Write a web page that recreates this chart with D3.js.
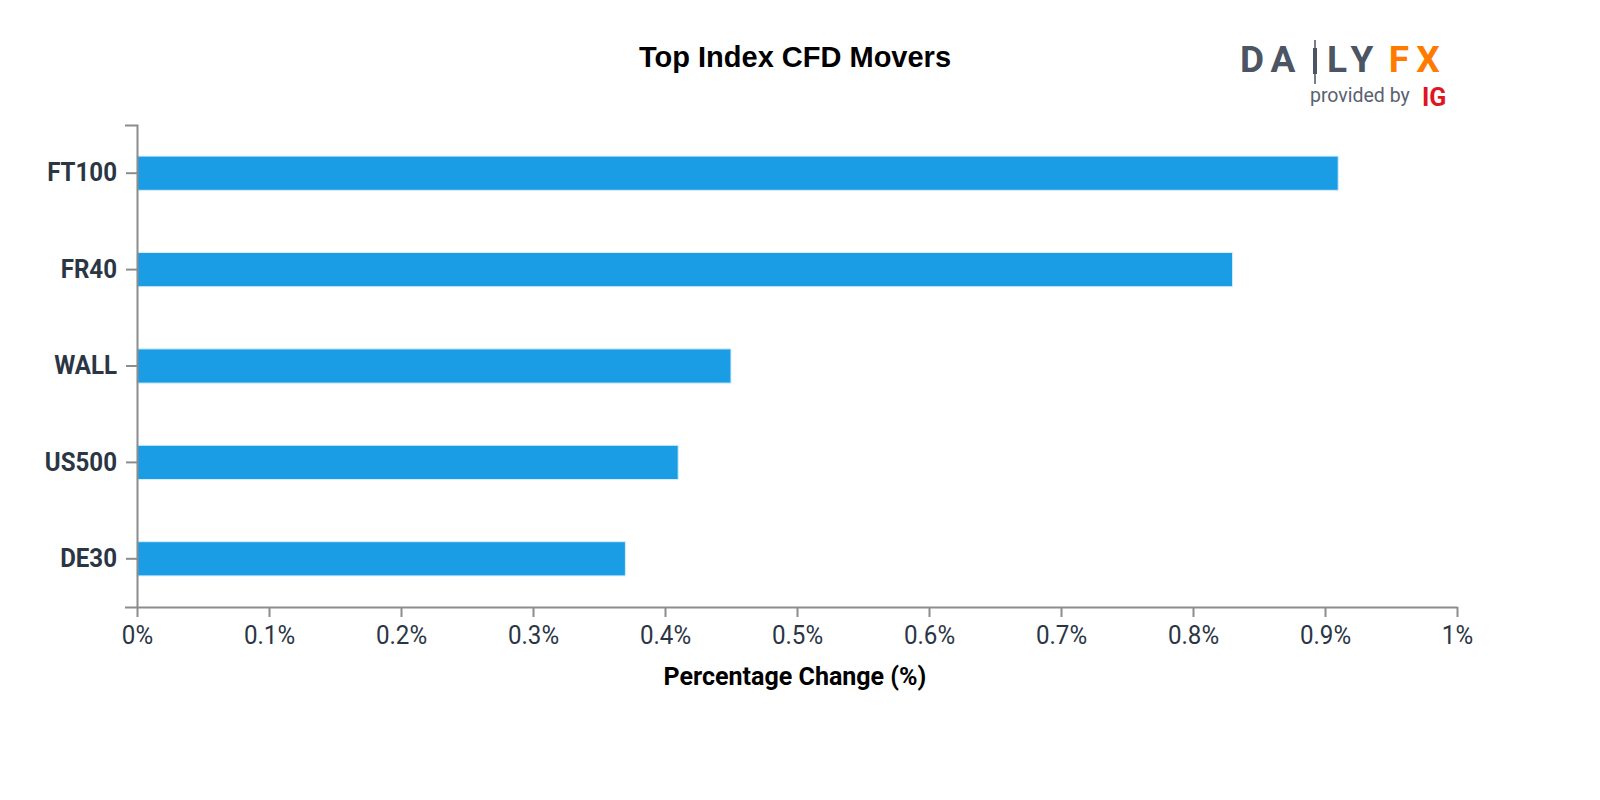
<!DOCTYPE html>
<html>
<head>
<meta charset="utf-8">
<script src="https://cdn.jsdelivr.net/npm/d3@7"></script>
<style>
  body { margin: 0; background: #fff; }
  svg { display: block; }
</style>
</head>
<body>
<svg width="1600" height="800"></svg>
<script>
const MARKETS = ["FT100", "FR40", "WALL", "US500", "DE30"];
const CHANGES = [0.91, 0.83, 0.45, 0.41, 0.37];
const X_TICKS = [0, 0.1, 0.2, 0.3, 0.4, 0.5, 0.6, 0.7, 0.8, 0.9, 1];

const svg = d3.select('svg');
const plotLeft = 137, plotRight = 1457, plotTop = 125, plotBottom = 607;
const axisColor = '#8c8c8c';
const textColor = '#2b3645';
const squeeze = 0.945; // fake a condensed face

const xScale = d3.scaleLinear()
    .domain([0, 1])
    .range([plotLeft, plotRight]);

const yScale = d3.scaleBand()
    .domain(MARKETS)
    .range([plotTop, plotBottom])
    .paddingInner(0.645)
    .paddingOuter(0.3225);

// title
svg.append('text')
    .attr('x', 795)
    .attr('y', 67)
    .attr('text-anchor', 'middle')
    .style('font-family', '"Liberation Sans", Arial, sans-serif')
    .style('font-weight', 'bold')
    .style('font-size', '29px')
    .text('Top Index CFD Movers');

// bars
svg.selectAll('.bar')
    .data(MARKETS)
    .enter()
    .append('rect')
    .classed('bar', true)
    .attr('x', xScale(0))
    .attr('y', d => yScale(d))
    .attr('width', (d, i) => xScale(CHANGES[i]) - xScale(0))
    .attr('height', yScale.bandwidth())
    .attr('fill', '#1b9de6')
    .attr('stroke', '#d6eefc')
    .attr('stroke-width', 1);

// y axis
const yAxis = svg.append('g')
    .attr('transform', `translate(${plotLeft},0)`)
    .call(d3.axisLeft(yScale).tickSize(11).tickSizeOuter(12).tickPadding(8));

yAxis.selectAll('text')
    .style('font-family', 'Roboto, sans-serif')
    .style('font-weight', 'bold')
    .style('font-size', '25.5px')
    .attr('fill', textColor)
    .attr('transform', `scale(${squeeze},1)`)
    .attr('x', -20 / squeeze);

// x axis
const xAxis = svg.append('g')
    .attr('transform', `translate(0,${plotBottom})`)
    .call(d3.axisBottom(xScale)
        .tickValues(X_TICKS)
        .tickFormat(d => d3.format('~g')(d) + '%')
        .tickSize(10)
        .tickSizeOuter(0)
        .tickPadding(8));

xAxis.selectAll('.tick text')
    .style('font-family', 'Roboto, sans-serif')
    .style('font-size', '26px')
    .attr('fill', textColor)
    .attr('y', 0)
    .attr('dy', 0)
    .attr('transform', `translate(0,37) scale(0.93,1)`);

[yAxis, xAxis].forEach(g => {
    g.selectAll('path, line').attr('stroke', axisColor).attr('stroke-width', 2);
});

// x axis title
svg.append('text')
    .attr('text-anchor', 'middle')
    .style('font-family', 'Roboto, sans-serif')
    .style('font-weight', 'bold')
    .style('font-size', '26.5px')
    .attr('fill', '#000')
    .attr('transform', `translate(795,685) scale(${squeeze},1)`)
    .text('Percentage Change (%)');

// DailyFX logo
const logo = svg.append('g').style('font-family', 'Roboto, sans-serif').style('font-weight', 'bold');
const slate = '#4b5563';
const orange = '#ff7b00';
const letters = [
    { t: 'D', x: 1252, c: slate },
    { t: 'A', x: 1283, c: slate },
    { t: 'L', x: 1337, c: slate },
    { t: 'Y', x: 1362, c: slate },
    { t: 'F', x: 1399, c: orange },
    { t: 'X', x: 1428, c: orange }
];
logo.selectAll('text.l')
    .data(letters)
    .enter()
    .append('text')
    .attr('class', 'l')
    .attr('x', d => d.x)
    .attr('y', 72)
    .attr('text-anchor', 'middle')
    .attr('fill', d => d.c)
    .style('font-size', '37px')
    .text(d => d.t);
logo.append('line')
    .attr('x1', 1315).attr('x2', 1315).attr('y1', 40).attr('y2', 84)
    .attr('stroke', slate).attr('stroke-width', 1.5);
logo.append('rect')
    .attr('x', 1313).attr('y', 48).attr('width', 4).attr('height', 26)
    .attr('fill', slate);
logo.append('text')
    .attr('x', 1310).attr('y', 102)
    .attr('fill', '#5a6270')
    .style('font-weight', 'normal')
    .style('font-size', '19.5px')
    .text('provided by');
logo.append('text')
    .attr('x', 1422).attr('y', 106)
    .attr('fill', '#e0161e')
    .style('font-size', '25px')
    .text('IG');
</script>
</body>
</html>
